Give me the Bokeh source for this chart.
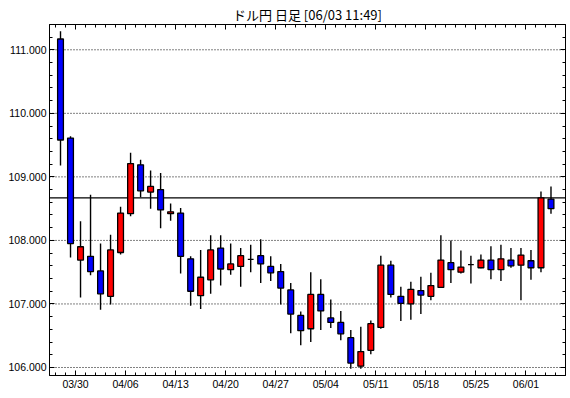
from bokeh.plotting import figure
from bokeh.models import (Range1d, LinearAxis, FixedTicker, Span, ColumnDataSource,
                          NumeralTickFormatter)
from bokeh.embed import file_html
from bokeh.resources import INLINE

title_text = "ドル円 日足 [06/03 11:49]"

dates = ["03/26", "03/27", "03/30", "03/31", "04/01", "04/02", "04/03",
         "04/06", "04/07", "04/08", "04/09", "04/10",
         "04/13", "04/14", "04/15", "04/16", "04/17",
         "04/20", "04/21", "04/22", "04/23", "04/24",
         "04/27", "04/28", "04/29", "04/30", "05/01",
         "05/04", "05/05", "05/06", "05/07", "05/08",
         "05/11", "05/12", "05/13", "05/14", "05/15",
         "05/18", "05/19", "05/20", "05/21", "05/22",
         "05/25", "05/26", "05/27", "05/28", "05/29",
         "06/01", "06/02", "06/03"]

opens = [111.17, 109.61, 107.69, 107.75, 107.52, 107.12, 107.81,
         108.42, 109.19, 108.76, 108.80, 108.42,
         108.43, 107.71, 107.13, 107.38, 107.88,
         107.54, 107.59, 107.70, 107.76, 107.59,
         107.51, 107.22, 106.82, 106.61, 107.15,
         106.78, 106.71, 106.47, 106.02, 106.27,
         106.63, 107.61, 107.12, 107.00, 107.21,
         107.12, 107.26, 107.65, 107.50, 107.62,
         107.57, 107.69, 107.54, 107.69, 107.61,
         107.68, 107.57, 108.65]
highs = [111.29, 109.64, 108.30, 108.72, 107.95, 108.09, 108.53,
         109.38, 109.27, 109.10, 109.06, 108.58,
         108.51, 107.75, 107.85, 108.08, 108.08,
         107.95, 107.88, 107.93, 108.02, 107.75,
         107.63, 107.33, 106.88, 107.50, 107.39,
         107.07, 106.89, 106.59, 106.64, 106.74,
         107.76, 107.68, 107.27, 107.35, 107.43,
         107.49, 108.08, 108.00, 107.84, 107.76,
         107.78, 107.91, 107.93, 107.88, 107.88,
         107.85, 108.77, 108.85]
lows = [109.18, 107.73, 107.10, 107.45, 106.91, 106.99, 107.78,
        108.38, 108.68, 108.50, 108.19, 108.31,
        107.48, 106.97, 106.92, 107.16, 107.29,
        107.46, 107.27, 107.50, 107.33, 107.36,
        106.99, 106.54, 106.35, 106.40, 106.59,
        106.62, 106.43, 105.98, 105.98, 106.21,
        106.61, 107.10, 106.73, 106.75, 106.84,
        107.06, 107.25, 107.33, 107.48, 107.32,
        107.56, 107.39, 107.36, 107.57, 107.06,
        107.38, 107.50, 108.42]
closes = [109.58, 107.95, 107.90, 107.51, 107.16, 107.85, 108.43,
          109.21, 108.78, 108.85, 108.48, 108.45,
          107.75, 107.20, 107.42, 107.85, 107.55,
          107.63, 107.76, 107.70, 107.63, 107.49,
          107.25, 106.84, 106.58, 107.15, 106.89,
          106.71, 106.53, 106.07, 106.25, 106.69,
          107.61, 107.15, 107.01, 107.23, 107.14,
          107.29, 107.69, 107.54, 107.58, 107.62,
          107.69, 107.54, 107.71, 107.60, 107.77,
          107.57, 108.67, 108.50]

ref_line = 108.67
y_ticks = [106, 107, 108, 109, 110, 111]
x_tick_labels = ["03/30", "04/06", "04/13", "04/20", "04/27",
                 "05/04", "05/11", "05/18", "05/25", "06/01"]
x_lo, x_hi = -1.1, 50.45
y_lo, y_hi = 105.874, 111.398

FONT = "Liberation Sans"

xs = list(range(len(dates)))
colors = []
for o, c in zip(opens, closes):
    if c > o:
        colors.append("#FF0000")
    elif c < o:
        colors.append("#0000FF")
    else:
        colors.append("#000000")

src = ColumnDataSource(dict(
    x=xs, open=opens, high=highs, low=lows, close=closes,
    top=[max(o, c) for o, c in zip(opens, closes)],
    bot=[min(o, c) for o, c in zip(opens, closes)],
    color=colors))

p = figure(width=568, height=396, output_backend="svg", toolbar_location=None,
           x_range=Range1d(x_lo, x_hi), y_range=Range1d(y_lo, y_hi),
           x_axis_type=None, y_axis_type=None,
           min_border_left=49, min_border_right=3, min_border_top=24,
           min_border_bottom=21)
p.background_fill_color = "white"
p.border_fill_color = "white"
p.outline_line_color = "black"
p.outline_line_width = 1

p.title.text = title_text
p.title.align = "center"
p.title.text_font = "Noto Sans CJK JP"
p.title.text_font_size = "13px"
p.title.text_font_style = "normal"
p.title.text_color = "black"
p.title.standoff = 1
p.title.offset = 0

major_x = [dates.index(l) - 0.5 for l in x_tick_labels]
minor_x = [i - 0.5 for i in range(len(dates) + 2)]
minor_y = [round(105.8 + 0.2 * k, 1) for k in range(29)]
overrides = {m: l for m, l in zip(major_x, x_tick_labels)}


def style_axis(ax, labels=True):
    ax.axis_line_color = "black"
    ax.axis_line_width = 1
    ax.major_tick_in = 5
    ax.major_tick_out = 0
    ax.minor_tick_in = 3
    ax.minor_tick_out = 0
    ax.major_tick_line_color = "black"
    ax.minor_tick_line_color = "black"
    ax.major_label_text_font = FONT
    if labels:
        ax.major_label_text_font_size = "10.5px"
        ax.major_label_text_color = "black"
    else:
        ax.major_label_text_font_size = "0px"
        ax.major_label_text_color = None
        ax.major_label_standoff = 0


xb = LinearAxis(ticker=FixedTicker(ticks=major_x, minor_ticks=minor_x),
                major_label_overrides=overrides)
style_axis(xb)
xb.major_label_standoff = 2
p.add_layout(xb, "below")

xt = LinearAxis(ticker=FixedTicker(ticks=major_x, minor_ticks=minor_x))
style_axis(xt, labels=False)
p.add_layout(xt, "above")

yl = LinearAxis(ticker=FixedTicker(ticks=y_ticks, minor_ticks=minor_y),
                formatter=NumeralTickFormatter(format="0.000"))
style_axis(yl)
yl.major_label_standoff = 3
p.add_layout(yl, "left")

yr = LinearAxis(ticker=FixedTicker(ticks=y_ticks, minor_ticks=minor_y))
style_axis(yr, labels=False)
p.add_layout(yr, "right")

for yv in y_ticks:
    p.add_layout(Span(location=yv, dimension="width", line_color="black",
                      line_width=1, line_dash="1 2", level="underlay"))

p.add_layout(Span(location=ref_line, dimension="width", line_color="black",
                  line_width=1.2, level="underlay"))

p.segment(x0="x", y0="low", x1="x", y1="high", source=src,
          line_color="black", line_width=1.4)
p.vbar(x="x", width=0.58, top="top", bottom="bot", source=src,
       fill_color="color", line_color="black", line_width=1.3)

open("out.html", "w").write(file_html(p, INLINE))
